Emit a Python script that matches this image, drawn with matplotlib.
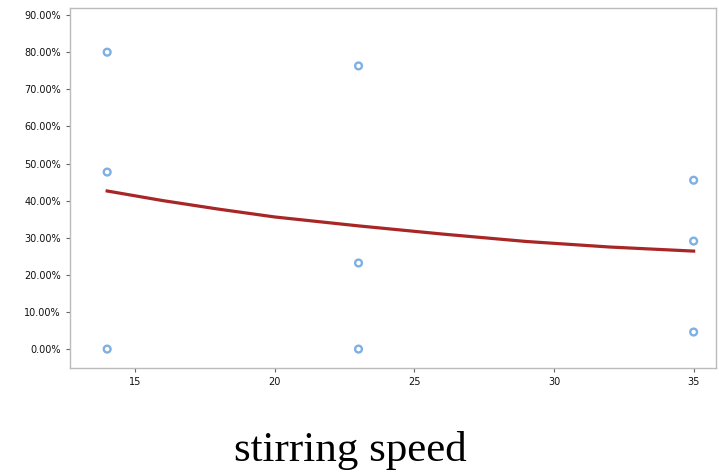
import matplotlib
matplotlib.use('Agg')
from matplotlib import pyplot as plt
from matplotlib.ticker import FuncFormatter

# observed points (stirring speed vs. rate)
speed = [14, 14, 14, 23, 23, 23, 35, 35, 35]
rate = [80.0, 47.7, 0.0, 76.3, 23.2, 0.0, 45.5, 29.1, 4.6]

# fitted trend line
fit_speed = [14, 16, 18, 20, 23, 26, 29, 32, 35]
fit_rate = [42.6, 40.0, 37.7, 35.6, 33.2, 31.0, 29.0, 27.5, 26.4]

xticks = [15, 20, 25, 30, 35]
yticks = [0, 10, 20, 30, 40, 50, 60, 70, 80, 90]

fig = plt.figure(figsize=(7.19, 4.72), dpi=100)
ax = fig.add_axes([0.0974, 0.2203, 0.8984, 0.7627])

ax.plot(fit_speed, fit_rate, color='#a82626', linewidth=2.3, zorder=2)
ax.scatter(speed, rate, s=24, facecolors='none', edgecolors='#7eb0e4',
           linewidths=1.7, zorder=3)

ax.set_xlim(12.67, 35.8)
ax.set_ylim(-5.1, 91.9)
ax.set_xticks(xticks)
ax.set_yticks(yticks)
ax.yaxis.set_major_formatter(FuncFormatter(lambda v, p: '%.2f%%' % v))
ax.tick_params(labelsize=7, colors='#666666', length=3, width=0.8,
               labelcolor='#111111')
for sp in ax.spines.values():
    sp.set_color('#bbbbbb')
    sp.set_linewidth(1.0)

fig.text(350 / 719, 1 - 451 / 472, 'stirring speed', ha='center', va='center',
         fontsize=31, family='Liberation Serif', color='black')

fig.savefig('out.png', dpi=100)
